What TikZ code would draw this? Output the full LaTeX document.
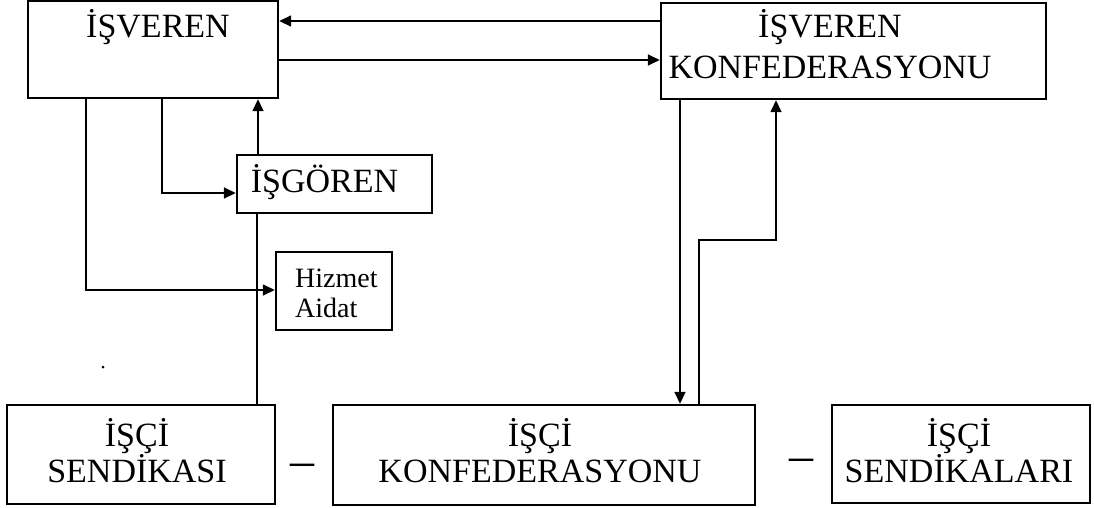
\documentclass[tikz,border=0pt]{standalone}
\usepackage{fontspec}
\setmainfont{Liberation Serif}
\usetikzlibrary{arrows.meta}
\tikzset{
  every picture/.style={line join=miter, >={Triangle[length=12pt,width=11pt]}},
  kutu/.style={draw, line width=2.4pt, inner sep=0pt},
  hat/.style={line width=1.6pt},
  yazi/.style={font=\fontsize{34}{36}\selectfont, align=center, anchor=base, inner sep=0pt},
  kucukyazi/.style={font=\fontsize{28}{30}\selectfont, align=left, anchor=base west, inner sep=0pt},
  tire/.style={font=\fontsize{48}{50}\selectfont, anchor=base, inner sep=0pt},
}

\begin{document}
\begin{tikzpicture}[x=1pt,y=-1pt]
\useasboundingbox (0,0) rectangle (1094,507);
% kutular
\node[kutu,minimum width=250pt,minimum height=97pt] (isveren) at (153,49.5) {};
\node[kutu,minimum width=385pt,minimum height=96pt] (isvkonf) at (853.5,51) {};
\node[kutu,minimum width=195pt,minimum height=58pt] (isgoren) at (334.5,184) {};
\node[kutu,minimum width=116pt,minimum height=78pt] (hizmet) at (334,291) {};
\node[kutu,minimum width=268pt,minimum height=99pt] (sendikasi) at (141,454.5) {};
\node[kutu,minimum width=422pt,minimum height=100pt] (isckonf) at (544,455) {};
\node[kutu,minimum width=258pt,minimum height=98pt] (sendikalari) at (961,454) {};
% yazilar (cok satirlilarda taban cizgisi son satirda)
\node[yazi] (isverenyazi) at (158,37) {İŞVEREN};
\node[yazi,font=\fontsize{34}{41}\selectfont] (isvkonfyazi) at (830,78) {İŞVEREN\\KONFEDERASYONU};
\node[yazi] (isgorenyazi) at (324.5,192) {İŞGÖREN};
\node[kucukyazi] (hizmetyazi) at (295,317) {Hizmet\\Aidat};
\node[yazi] (sendikasiyazi) at (137,482) {İŞÇİ\\SENDİKASI};
\node[yazi] (isckonfyazi) at (540,482) {İŞÇİ\\KONFEDERASYONU};
\node[yazi] (sendikalariyazi) at (959,482) {İŞÇİ\\SENDİKALARI};
\node[tire] (tire1) at (302,476) {–};
\node[tire] (tire2) at (801,471) {–};
\fill (103,367) circle (1.5pt);
% oklar
\draw[hat,->] (isvkonf.west |- 0,21) -- (isveren.east |- 0,21);
\draw[hat,->] (isveren.east |- 0,60) -- (isvkonf.west |- 0,60);
\draw[hat,->] (isveren.south -| 162,0) |- (isgoren.west |- 0,193);
\draw[hat] (sendikasi.north -| 257,0) -- (isgoren.south -| 257,0);
\draw[hat,->] (isgoren.north -| 258,0) -- (isveren.south -| 258,0);
\draw[hat,->] (isveren.south -| 86,0) |- (hizmet.west |- 0,290);
\draw[hat,->] (isvkonf.south -| 680,0) -- (isckonf.north -| 680,0);
\draw[hat,->] (isckonf.north -| 699,0) |- (776,240) -- (isvkonf.south -| 776,0);
\end{tikzpicture}
\end{document}
